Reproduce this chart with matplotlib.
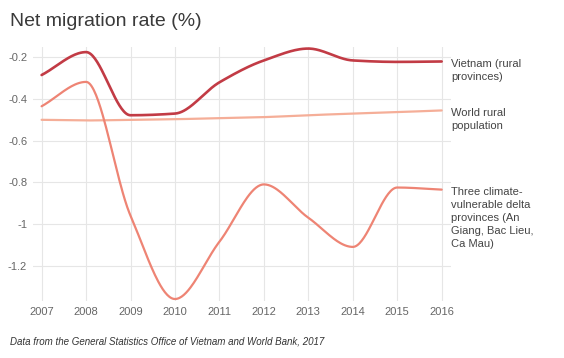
import numpy as np
import matplotlib
matplotlib.use("Agg")
import matplotlib.pyplot as plt

years = [2007, 2008, 2009, 2010, 2011, 2012, 2013, 2014, 2015, 2016]
vietnam = [-0.285, -0.175, -0.478, -0.47, -0.32, -0.215, -0.158, -0.215, -0.222, -0.22]
world = [-0.5, -0.503, -0.5, -0.497, -0.492, -0.487, -0.478, -0.47, -0.463, -0.455]
delta = [-0.435, -0.318, -0.96, -1.36, -1.085, -0.81, -0.97, -1.11, -0.825, -0.835]
labels = ["Vietnam (rural\nprovinces)", "World rural\npopulation",
          "Three climate-\nvulnerable delta\nprovinces (An\nGiang, Bac Lieu,\nCa Mau)"]
yticks = [-0.2, -0.4, -0.6, -0.8, -1.0, -1.2]
ytick_labels = ["-0.2", "-0.4", "-0.6", "-0.8", "-1", "-1.2"]


def monotone(x, y, n=40):
    x = np.asarray(x, float); y = np.asarray(y, float)
    h = np.diff(x); d = np.diff(y) / h
    m = np.zeros_like(y)
    m[0] = d[0]; m[-1] = d[-1]
    for i in range(1, len(y) - 1):
        if d[i - 1] * d[i] <= 0:
            m[i] = 0
        else:
            w1 = 2 * h[i] + h[i - 1]; w2 = h[i] + 2 * h[i - 1]
            m[i] = (w1 + w2) / (w1 / d[i - 1] + w2 / d[i])
    xs, ys = [], []
    for i in range(len(h)):
        t = np.linspace(0, 1, n, endpoint=(i == len(h) - 1))
        h00 = 2 * t**3 - 3 * t**2 + 1; h10 = t**3 - 2 * t**2 + t
        h01 = -2 * t**3 + 3 * t**2; h11 = t**3 - t**2
        xs.append(x[i] + t * h[i])
        ys.append(h00 * y[i] + h10 * h[i] * m[i] + h01 * y[i + 1] + h11 * h[i] * m[i + 1])
    return np.concatenate(xs), np.concatenate(ys)


plt.rcParams['font.family'] = ['Liberation Sans', 'DejaVu Sans']
fig = plt.figure(figsize=(5.64, 3.58), dpi=100)
ax = fig.add_axes([0.058, 0.159, 0.7425, 0.71])

series = [(vietnam, '#c23b45', 1.9), (world, '#f5ae98', 1.6), (delta, '#ee8474', 1.6)]
for (vals, col, lw), lab in zip(series, labels):
    xs, ys = monotone(years, vals)
    ax.plot(xs, ys, color=col, lw=lw, solid_capstyle='round', zorder=3)
    ax.annotate(lab, xy=(years[-1], vals[-1]), xytext=(7, 2), textcoords='offset points',
                va='top', ha='left', fontsize=8, color='#444444', linespacing=1.38,
                annotation_clip=False)

ax.set_xlim(2006.8, 2016.22)
ax.set_ylim(-1.37, -0.15)
ax.set_xticks(years)
ax.set_xticklabels([str(y) for y in years])
ax.set_yticks(yticks)
ax.set_yticklabels(ytick_labels)
ax.grid(True, color='#e6e6e6', lw=0.8)
ax.set_axisbelow(True)
for s in ax.spines.values():
    s.set_visible(False)
ax.tick_params(length=0, labelsize=8, labelcolor='#666666', pad=4)

fig.text(0.018, 0.94, "Net migration rate (%)", fontsize=14, color='#3a3a3a', va='center', ha='left')
fig.text(0.018, 0.045, "Data from the General Statistics Office of Vietnam and World Bank, 2017",
         fontsize=7.0, style='italic', color='#333333', va='center', ha='left')

fig.savefig("out.png", dpi=100)
